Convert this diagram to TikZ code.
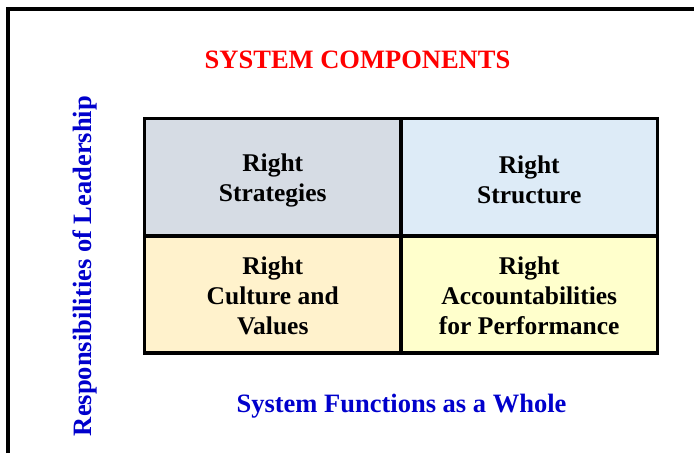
\documentclass[tikz,border=0pt]{standalone}
\usepackage{fontspec}
\setmainfont{Liberation Serif}
\definecolor{cellA}{HTML}{D6DCE4}
\definecolor{cellB}{HTML}{DDEBF7}
\definecolor{cellC}{HTML}{FFF2CC}
\definecolor{cellD}{HTML}{FFFFCC}
\definecolor{titlered}{HTML}{FF0000}
\definecolor{labelblue}{HTML}{0000CC}
\begin{document}
\begin{tikzpicture}[x=1pt,y=-1pt,
  cell/.style={draw=black,line width=3.5pt,minimum width=256.5pt,minimum height=117pt,inner sep=0pt},
  celltext/.style={inner sep=0pt,align=center,font=\fontsize{25.5}{30}\selectfont\bfseries},
  label/.style={font=\fontsize{26.5}{30}\selectfont\bfseries,inner sep=0pt},
  frame/.style={line width=4pt}]
\useasboundingbox (0,0) rectangle (694,453);
\coordinate (ftl) at (7.5,9);
\coordinate (ftr) at (694,9);
\coordinate (fbl) at (7.5,453);
\draw[frame] (fbl) -- (ftl) -- (ftr);
\node[cell,fill=cellA] (tl) at (272.75,177) {};
\node[cell,fill=cellB] (tr) at (529.25,177) {};
\node[cell,fill=cellC] (bl) at (272.75,294.5) {};
\node[cell,fill=cellD] (br) at (529.25,294.5) {};
\node[celltext] (tlt) at ([yshift=-3pt]tl.center) {Right\\Strategies};
\node[celltext] (trt) at ([yshift=-2.5pt]tr.center) {Right\\Structure};
\node[celltext] (blt) at ([yshift=-1.5pt]bl.center) {Right\\Culture and\\Values};
\node[celltext] (brt) at ([yshift=-1.5pt]br.center) {Right\\Accountabilities\\for Performance};
\node[label,text=titlered] (title) at (357.5,60) {SYSTEM COMPONENTS};
\node[label,text=labelblue] (bottom) at (401.5,406) {System Functions as a Whole};
\node[label,text=labelblue,rotate=90] (side) at (85,266) {Responsibilities of Leadership};
\end{tikzpicture}
\end{document}
